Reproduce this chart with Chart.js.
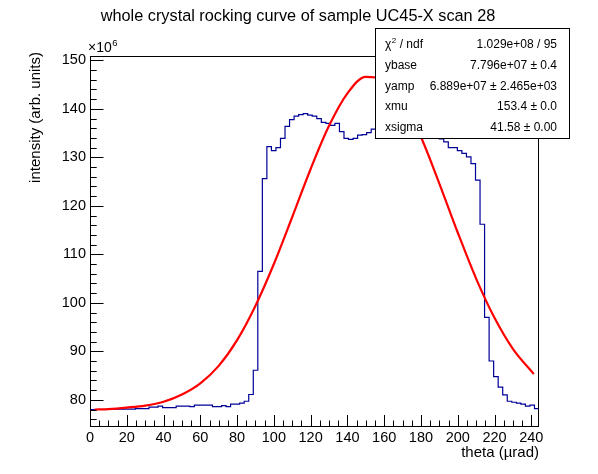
<!DOCTYPE html>
<html>
<head>
<meta charset="utf-8">
<script src="https://cdn.jsdelivr.net/npm/chart.js@4/dist/chart.umd.min.js"></script>
<style>
html,body{margin:0;padding:0;background:#fff;}
#wrap{width:598px;height:474px;}
</style>
</head>
<body>
<div id="wrap"><canvas id="c" width="598" height="474"></canvas></div>
<script>
// ---- data (intensity in units of 10^6) ----
const titleText = "whole crystal rocking curve of sample UC45-X scan 28";
const xTitle = "theta (\u00b5rad)";
const yTitle = "intensity (arb. units)";
const thetaMin = 0;
const thetaMax = 244.2;
const histCounts = [
  78.0, 78.0, 78.0, 78.0, 78.0, 78.1, 78.1, 78.1, 78.1, 78.1,
  78.2, 78.2, 78.2, 78.5, 78.5, 78.7, 78.4, 78.4, 78.4, 78.7,
  78.7, 78.7, 78.6, 78.9, 78.9, 78.9, 78.9, 78.6, 78.6, 78.8,
  78.6, 79.1, 79.1, 79.3, 79.7, 81.1, 86.1, 106.5, 125.6, 132.2,
  131.4, 132.0, 133.9, 136.4, 137.8, 138.5, 138.8, 139.0, 138.7, 138.5,
  138.0, 137.2, 137.0, 136.6, 137.0, 135.3, 133.9, 133.7, 133.9, 134.6,
  134.7, 135.1, 135.8, 136.3, 136.8, 137.2, 137.5, 137.6, 137.5, 137.2,
  136.9, 136.6, 136.2, 135.8, 135.3, 134.8, 134.3, 133.8, 133.2, 132.0,
  132.0, 131.4, 130.8, 130.1, 128.7, 125.3, 116.2, 97.0, 88.0, 84.8,
  82.6, 81.0, 79.7, 79.5, 79.3, 79.1, 78.7, 78.9, 78.2
];
const fitTheta = [2.5, 10, 20, 30, 40, 50, 60, 70, 80, 90, 100, 110, 120, 130, 140, 150, 160, 170, 180, 190, 200, 210, 220, 230, 241.4];
const fitValue = [78.0, 78.1, 78.4, 78.8, 79.6, 81.1, 83.4, 87.0, 92.3, 99.4, 108.0, 117.7, 127.6, 136.5, 143.2, 146.6, 146.1, 141.8, 134.2, 124.6, 114.5, 105.0, 96.9, 90.5, 85.3];
const xTicks = [0, 20, 40, 60, 80, 100, 120, 140, 160, 180, 200, 220, 240];
const yTicks = [80, 90, 100, 110, 120, 130, 140, 150];
const yMin = 74.6, yMax = 150.9;
const statLabels = ["\u03c7\u00b2 / ndf", "ybase", "yamp", "xmu", "xsigma"];
const statValues = ["1.029e+08 / 95", "7.796e+07 \u00b1 0.4", "6.889e+07 \u00b1 2.465e+03", "153.4 \u00b1 0.0", "41.58 \u00b1 0.00"];

// ---- build datasets ----
const nBins = histCounts.length;
const binW = (thetaMax - thetaMin) / nBins;
const histPts = histCounts.map((v, i) => ({x: thetaMin + i * binW, y: v}));
histPts.push({x: thetaMax, y: histCounts[nBins - 1]});
const fitPts = fitTheta.map((t, i) => ({x: t, y: fitValue[i]}));

const FONT = "'Liberation Sans', Arial, Helvetica, sans-serif";

const decor = {
  id: 'decor',
  afterDatasetsDraw(chart) {
    const ctx = chart.ctx;
    const ca = chart.chartArea;
    const xs = chart.scales.x, ys = chart.scales.y;
    ctx.save();
    ctx.strokeStyle = '#000';
    ctx.lineWidth = 1;
    // frame
    ctx.strokeRect(Math.round(ca.left) + 0.5, Math.round(ca.top) + 0.5,
                   Math.round(ca.right - ca.left) - 1, Math.round(ca.bottom - ca.top));
    // x ticks (inside)
    ctx.beginPath();
    for (let v = 0; v <= thetaMax; v += 5) {
      const px = Math.round(xs.getPixelForValue(v)) + 0.5;
      const len = (v % 20 === 0) ? 11 : 5.5;
      ctx.moveTo(px, ca.bottom);
      ctx.lineTo(px, ca.bottom - len);
    }
    // y ticks (inside)
    for (let v = 76; v <= 150; v += 2) {
      const py = Math.round(ys.getPixelForValue(v)) + 0.5;
      const len = (v % 10 === 0) ? 13.5 : 6.7;
      ctx.moveTo(ca.left, py);
      ctx.lineTo(ca.left + len, py);
    }
    ctx.stroke();

    ctx.fillStyle = '#000';
    // title
    ctx.font = '16.3px ' + FONT;
    ctx.textAlign = 'center';
    ctx.textBaseline = 'middle';
    ctx.fillText(titleText, 298, 17);
    // x title
    ctx.font = '15px ' + FONT;
    ctx.textAlign = 'right';
    ctx.fillText(xTitle, ca.right, 453);
    // y title
    ctx.save();
    ctx.translate(36, ca.top - 4);
    ctx.rotate(-Math.PI / 2);
    ctx.textAlign = 'right';
    ctx.textBaseline = 'middle';
    ctx.fillText(yTitle, 0, 0);
    ctx.restore();
    // x10^6
    ctx.textAlign = 'left';
    ctx.textBaseline = 'alphabetic';
    ctx.font = '14px ' + FONT;
    ctx.fillText('\u00d710', 88, 52);
    const w = ctx.measureText('\u00d710').width;
    ctx.font = '9.5px ' + FONT;
    ctx.fillText('6', 88 + w + 0.5, 46);

    // stats box
    const bx = 375, by = 28, bw = 194, bh = 110;
    ctx.fillStyle = '#fff';
    ctx.fillRect(bx, by, bw, bh);
    ctx.strokeStyle = '#000';
    ctx.strokeRect(bx + 0.5, by + 0.5, bw, bh);
    ctx.fillStyle = '#000';
    const rowY = [45, 66, 86.5, 107, 128];
    ctx.font = '12px ' + FONT;
    ctx.textBaseline = 'middle';
    for (let i = 0; i < statLabels.length; i++) {
      ctx.textAlign = 'left';
      if (i === 0) {
        ctx.font = '12px ' + FONT;
        ctx.fillText('\u03c7', 385, rowY[i]);
        const cw = ctx.measureText('\u03c7').width;
        ctx.font = '8px ' + FONT;
        ctx.fillText('2', 385 + cw + 0.5, rowY[i] - 4);
        ctx.font = '12px ' + FONT;
        ctx.fillText(' / ndf', 385 + cw + 5, rowY[i]);
      } else {
        ctx.fillText(statLabels[i], 385, rowY[i]);
      }
      ctx.textAlign = 'right';
      ctx.fillText(statValues[i], 557, rowY[i]);
    }
    ctx.restore();
  }
};

new Chart(document.getElementById('c'), {
  type: 'scatter',
  data: {
    datasets: [
      {
        label: 'fit',
        data: fitPts,
        showLine: true,
        borderColor: '#ff0000',
        borderWidth: 2.2,
        pointRadius: 0,
        cubicInterpolationMode: 'monotone',
        fill: false,
        order: 0
      },
      {
        label: 'hist',
        data: histPts,
        showLine: true,
        stepped: 'before',
        borderColor: '#000099',
        borderWidth: 1.2,
        pointRadius: 0,
        fill: false,
        order: 1
      }
    ]
  },
  options: {
    responsive: false,
    animation: false,
    devicePixelRatio: 1,
    layout: {padding: {left: 0, top: 56, right: 59, bottom: 0}},
    plugins: {legend: {display: false}, tooltip: {enabled: false}, title: {display: false}},
    scales: {
      x: {
        type: 'linear',
        min: thetaMin,
        max: thetaMax,
        grid: {display: false, drawTicks: false},
        border: {display: false},
        afterBuildTicks: s => { s.ticks = xTicks.map(v => ({value: v})); },
        afterFit: s => { s.height = 48; },
        ticks: {
          color: '#000',
          font: {family: FONT, size: 14.5},
          padding: 3,
          maxRotation: 0,
          autoSkip: false
        }
      },
      y: {
        type: 'linear',
        min: yMin,
        max: yMax,
        grid: {display: false, drawTicks: false},
        border: {display: false},
        afterBuildTicks: s => { s.ticks = yTicks.map(v => ({value: v})); },
        afterFit: s => { s.width = 90; },
        ticks: {
          color: '#000',
          font: {family: FONT, size: 14.5},
          padding: 4,
          autoSkip: false
        }
      }
    }
  },
  plugins: [decor]
});
</script>
</body>
</html>
